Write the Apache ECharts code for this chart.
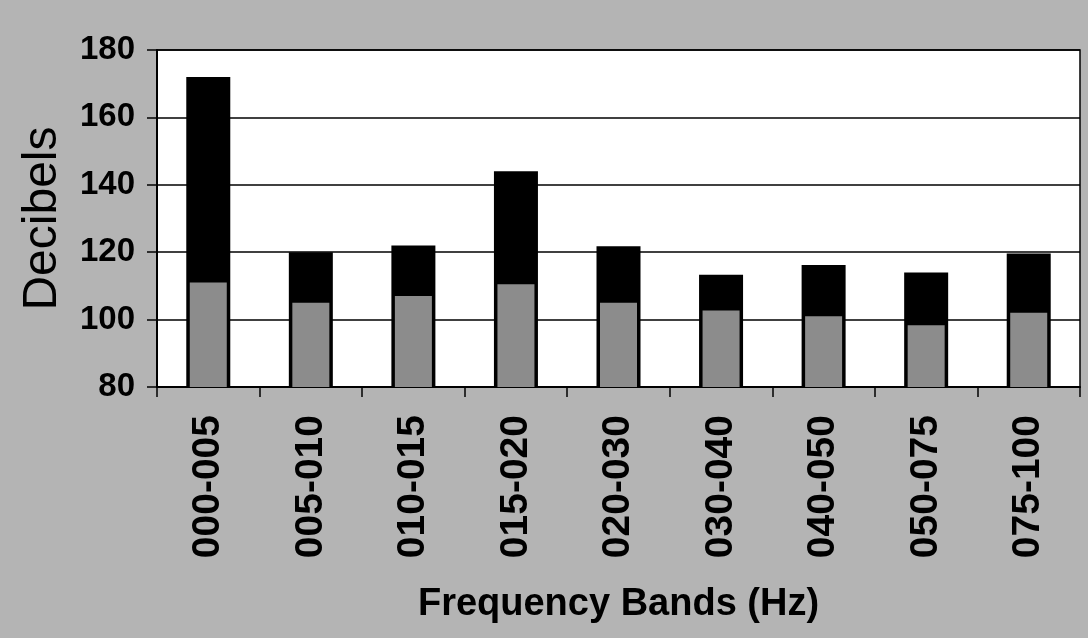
<!DOCTYPE html>
<html>
<head>
<meta charset="utf-8">
<script src="https://cdn.jsdelivr.net/npm/echarts@6/dist/echarts.min.js"></script>
<style>
html,body{margin:0;padding:0;background:#b4b4b4;}
#chart{width:1088px;height:638px;}
</style>
</head>
<body>
<div id="chart"></div>
<script>
var categories = ['000-005','005-010','010-015','015-020','020-030','030-040','040-050','050-075','075-100'];
var peakValues = [172, 120, 122, 144, 121.8, 113.3, 116.2, 114, 119.6];
var baseValues = [111, 105, 107, 110.5, 105, 102.7, 101, 98.3, 102];
var yTicks = [80, 100, 120, 140, 160, 180];

var chart = echarts.init(document.getElementById('chart'));
var FONT = 'Liberation Sans, Arial, sans-serif';
chart.setOption({
  backgroundColor: '#b4b4b4',
  animation: false,
  grid: {left: 157, right: 8, top: 50, bottom: 251, show: true, backgroundColor: '#ffffff', borderColor: '#000', borderWidth: 1.5},
  xAxis: [{
    type: 'category',
    data: categories,
    name: 'Frequency Bands (Hz)',
    nameLocation: 'middle',
    nameGap: 199,
    nameTextStyle: {fontFamily: FONT, fontWeight: 'bold', fontSize: 38, color: '#000'},
    axisLine: {lineStyle: {color: '#000', width: 2}},
    axisTick: {show: true, length: 10, lineStyle: {color: '#000', width: 1.5}},
    axisLabel: {rotate: 90, margin: 28, fontFamily: FONT, fontWeight: 'bold', fontSize: 39, color: '#000'}
  }, {
    type: 'category',
    data: categories,
    show: false
  }],
  yAxis: {
    type: 'value',
    min: yTicks[0],
    max: yTicks[yTicks.length - 1],
    interval: 20,
    name: 'Decibels',
    nameLocation: 'middle',
    nameGap: 90,
    nameTextStyle: {fontFamily: FONT, fontSize: 48, color: '#000'},
    axisLine: {show: true, lineStyle: {color: '#000', width: 2}},
    axisTick: {show: true, length: 10, lineStyle: {color: '#000', width: 1.5}},
    axisLabel: {margin: 22, fontFamily: FONT, fontWeight: 'bold', fontSize: 33, color: '#000'},
    splitLine: {lineStyle: {color: '#000', width: 1.5}}
  },
  series: [{
    type: 'bar',
    xAxisIndex: 0,
    data: peakValues,
    barWidth: 44,
    itemStyle: {color: '#000'}
  }, {
    type: 'bar',
    xAxisIndex: 1,
    data: baseValues,
    barWidth: 37,
    itemStyle: {color: '#8c8c8c'}
  }]
});
</script>
</body>
</html>
